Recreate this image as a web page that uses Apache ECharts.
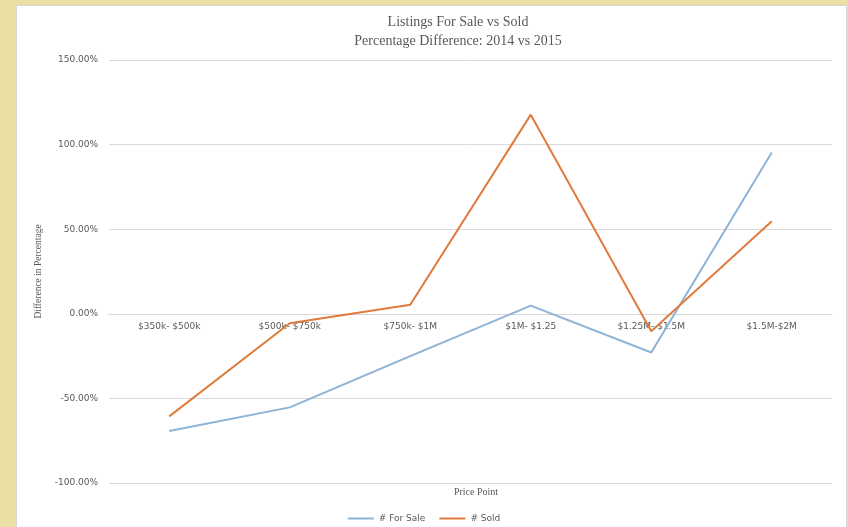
<!DOCTYPE html>
<html>
<head>
<meta charset="utf-8">
<script src="https://cdn.jsdelivr.net/npm/echarts@6/dist/echarts.min.js"></script>
<style>
html,body{margin:0;padding:0;width:848px;height:527px;background:#EAE0A6;overflow:hidden;}
#panel{position:absolute;left:16px;top:5px;width:829px;height:540px;background:#fff;border:1px solid #d6d6de;}
#chart{position:absolute;left:0;top:0;width:848px;height:527px;}
</style>
</head>
<body>
<div id="panel"></div>
<div id="chart"></div>
<script>
const categories = ['$350k- $500k', '$500k- $750k', '$750k- $1M', '$1M- $1.25', '$1.25M- $1.5M', '$1.5M-$2M'];
const forSale = [-69.3, -55.3, -25.0, 4.8, -22.9, 95.3];
const sold = [-60.6, -5.6, 5.3, 117.7, -10.3, 54.7];
const yTicks = { min: -100, max: 150, interval: 50 };

const chart = echarts.init(document.getElementById('chart'), null, { renderer: 'canvas' });
const grey = '#595959';
const sans = 'DejaVu Sans';
chart.setOption({
  backgroundColor: 'transparent',
  animation: false,
  title: [
    { text: 'Listings For Sale vs Sold\nPercentage Difference: 2014 vs 2015', left: 453, top: 8, textAlign: 'center',
      textStyle: { fontFamily: 'Liberation Serif', fontWeight: 'normal', fontSize: 14, color: grey, lineHeight: 19 } },
    { text: 'Price Point', left: 471, top: 482, textAlign: 'center',
      textStyle: { fontFamily: 'Liberation Serif', fontWeight: 'normal', fontSize: 10, color: grey } }
  ],
  legend: {
    top: 509, left: 'center',
    itemWidth: 26, itemHeight: 2, itemGap: 14,
    icon: 'rect',
    textStyle: { fontFamily: sans, fontSize: 9, color: grey },
    data: ['# For Sale', '# Sold']
  },
  grid: { left: 109, right: 16, top: 60, bottom: 44 },
  xAxis: {
    type: 'category', data: categories, boundaryGap: true,
    axisLine: { show: true, onZero: true, lineStyle: { color: '#d9d9d9', width: 1 } },
    axisTick: { show: false },
    axisLabel: { color: grey, fontFamily: sans, fontSize: 9, margin: 8, interval: 0 }
  },
  yAxis: {
    type: 'value', min: yTicks.min, max: yTicks.max, interval: yTicks.interval,
    name: 'Difference in Percentage', nameLocation: 'middle', nameGap: 62, nameRotate: 90,
    nameTextStyle: { fontFamily: 'Liberation Serif', fontSize: 9.5, color: grey },
    axisLine: { show: false }, axisTick: { show: false },
    axisLabel: { color: grey, fontFamily: sans, fontSize: 9, margin: 11, formatter: v => v.toFixed(2) + '%' },
    splitLine: { lineStyle: { color: '#d9d9d9', width: 1 } }
  },
  series: [
    { name: '# For Sale', type: 'line', data: forSale, symbol: 'none', lineStyle: { color: '#8DB3D7', width: 2 }, itemStyle: { color: '#8DB3D7' } },
    { name: '# Sold', type: 'line', data: sold, symbol: 'none', lineStyle: { color: '#DF7B3C', width: 2 }, itemStyle: { color: '#DF7B3C' } }
  ]
});
// place category labels just below the zero line (as in the original chart)
const zeroY = chart.convertToPixel({ yAxisIndex: 0 }, 0);
const bottomY = chart.convertToPixel({ yAxisIndex: 0 }, yTicks.min);
const axisY = (Math.abs(bottomY - zeroY) > 1) ? bottomY : zeroY;
chart.setOption({ xAxis: { axisLabel: { margin: 8 - (axisY - zeroY) } } });
</script>
</body>
</html>
